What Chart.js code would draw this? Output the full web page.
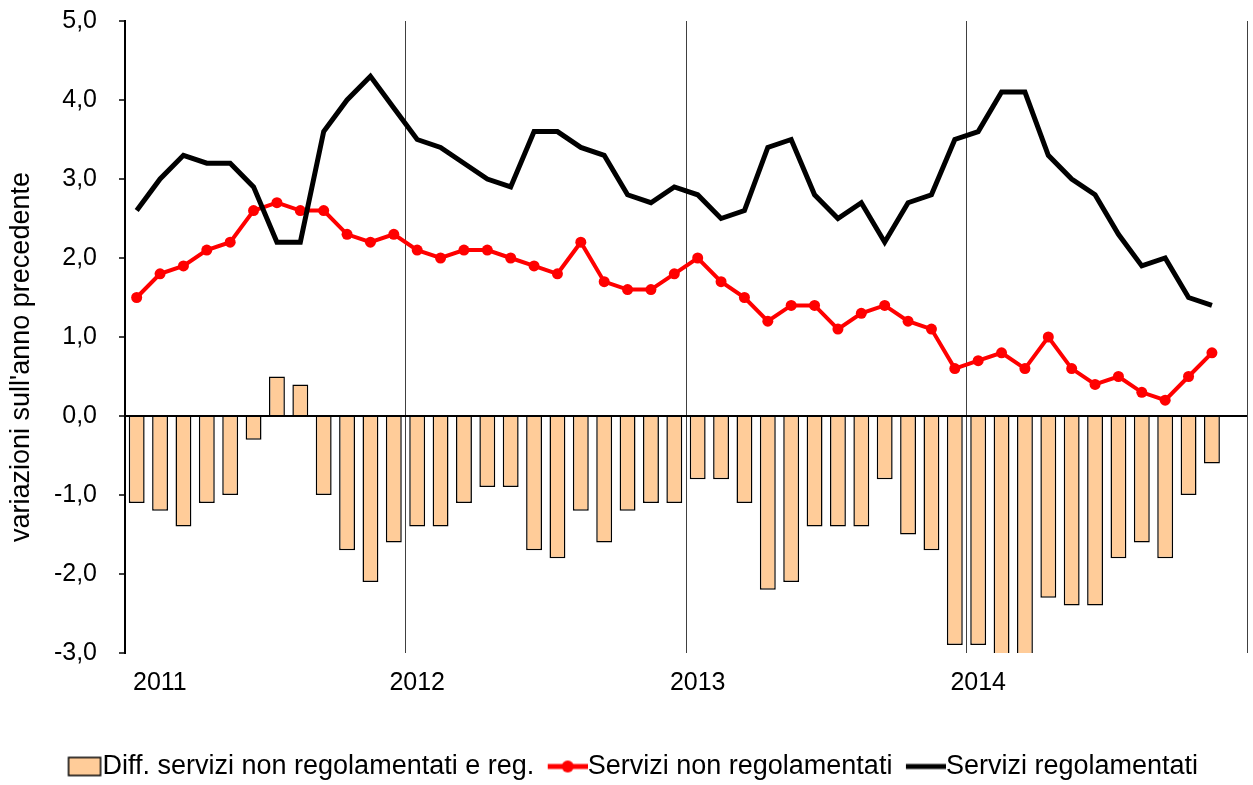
<!DOCTYPE html>
<html lang="it">
<head>
<meta charset="utf-8">
<title>Servizi regolamentati e non regolamentati</title>
<script src="https://cdn.jsdelivr.net/npm/chart.js@4.4.1/dist/chart.umd.min.js"></script>
<style>
  html, body { margin: 0; padding: 0; background: #fff; }
  #wrap { width: 1253px; height: 785px; }
</style>
</head>
<body>
<div id="wrap"><canvas id="grafico"></canvas></div>
<script>
// ---- dati (variazioni % sull'anno precedente, gen 2011 - nov 2014) ----
const ANNI = ["2011", "2012", "2013", "2014"];
const MESI = ["gen", "feb", "mar", "apr", "mag", "giu", "lug", "ago", "set", "ott", "nov", "dic"];

const NON_REG = [
  1.5, 1.8, 1.9, 2.1, 2.2, 2.6, 2.7, 2.6, 2.6, 2.3, 2.2, 2.3,
  2.1, 2.0, 2.1, 2.1, 2.0, 1.9, 1.8, 2.2, 1.7, 1.6, 1.6, 1.8,
  2.0, 1.7, 1.5, 1.2, 1.4, 1.4, 1.1, 1.3, 1.4, 1.2, 1.1, 0.6,
  0.7, 0.8, 0.6, 1.0, 0.6, 0.4, 0.5, 0.3, 0.2, 0.5, 0.8
];
const REG = [
  2.6, 3.0, 3.3, 3.2, 3.2, 2.9, 2.2, 2.2, 3.6, 4.0, 4.3, 3.9,
  3.5, 3.4, 3.2, 3.0, 2.9, 3.6, 3.6, 3.4, 3.3, 2.8, 2.7, 2.9,
  2.8, 2.5, 2.6, 3.4, 3.5, 2.8, 2.5, 2.7, 2.2, 2.7, 2.8, 3.5,
  3.6, 4.1, 4.1, 3.3, 3.0, 2.8, 2.3, 1.9, 2.0, 1.5, 1.4
];
const DIFF = [
  -1.1, -1.2, -1.4, -1.1, -1.0, -0.3, 0.5, 0.4, -1.0, -1.7, -2.1, -1.6,
  -1.4, -1.4, -1.1, -0.9, -0.9, -1.7, -1.8, -1.2, -1.6, -1.2, -1.1, -1.1,
  -0.8, -0.8, -1.1, -2.2, -2.1, -1.4, -1.4, -1.4, -0.8, -1.5, -1.7, -2.9,
  -2.9, -3.3, -3.5, -2.3, -2.4, -2.4, -1.8, -1.6, -1.8, -1.0, -0.6
];

const SERIE = ["Diff. servizi non regolamentati e reg.", "Servizi non regolamentati", "Servizi regolamentati"];
const TITOLO_Y = "variazioni sull'anno precedente";

// 48 categorie mensili (l'ultima, dic 2014, resta vuota)
const CATEGORIE = [];
ANNI.forEach(a => MESI.forEach(m => CATEGORIE.push(m + " " + a)));

const ARANCIO = "#FFCC99";
const ROSSO = "#FF0000";
const NERO = "#000000";
const FONT = '"Liberation Sans", Arial, sans-serif';

// marcatori legenda: immagine larga 67, il simbolo sta nei 40px a destra
function marcatore(tipo) {
  const c = document.createElement("canvas");
  c.width = 67; c.height = 30;
  const g = c.getContext("2d");
  if (tipo === "bar") {
    g.fillStyle = ARANCIO; g.fillRect(33, 6, 32, 18);
    g.strokeStyle = NERO; g.lineWidth = 1.5; g.strokeRect(33, 6, 32, 18);
  } else if (tipo === "rosso") {
    g.strokeStyle = ROSSO; g.lineWidth = 5;
    g.beginPath(); g.moveTo(27, 15); g.lineTo(67, 15); g.stroke();
    g.fillStyle = ROSSO; g.beginPath(); g.arc(47, 15, 6, 0, Math.PI * 2); g.fill();
  } else {
    g.strokeStyle = NERO; g.lineWidth = 5;
    g.beginPath(); g.moveTo(27, 15); g.lineTo(67, 15); g.stroke();
  }
  return c;
}
const MARCATORI = [marcatore("bar"), marcatore("rosso"), marcatore("nero")];

// etichette anni e titolo asse y
const testiExtra = {
  id: "testiExtra",
  afterDraw(chart) {
    const { ctx, chartArea, scales } = chart;
    ctx.save();
    ctx.fillStyle = "#000";
    ctx.font = "25px " + FONT;
    ctx.textBaseline = "middle";
    ANNI.forEach((a, i) => {
      if (i === 0) {
        ctx.textAlign = "left";
        ctx.fillText(a, chartArea.left + 8, chartArea.bottom + 30);
      } else {
        ctx.textAlign = "center";
        ctx.fillText(a, scales.x.getPixelForValue(i * 12), chartArea.bottom + 30);
      }
    });
    ctx.translate(22, (chartArea.top + chartArea.bottom) / 2 + 20);
    ctx.rotate(-Math.PI / 2);
    ctx.font = "27px " + FONT;
    ctx.textAlign = "center";
    ctx.fillText(TITOLO_Y, 0, 0);
    ctx.restore();
  }
};

new Chart(document.getElementById("grafico"), {
  type: "bar",
  data: {
    labels: CATEGORIE,
    datasets: [
      {
        type: "bar", label: SERIE[0], data: DIFF, order: 3,
        backgroundColor: ARANCIO, borderColor: NERO, borderWidth: 1.5,
        barPercentage: 0.68, categoryPercentage: 1.0
      },
      {
        type: "line", label: SERIE[1], data: NON_REG, order: 2,
        borderColor: ROSSO, backgroundColor: ROSSO, borderWidth: 4,
        pointRadius: 5.5, pointBorderWidth: 0, pointBackgroundColor: ROSSO,
        tension: 0
      },
      {
        type: "line", label: SERIE[2], data: REG, order: 1,
        borderColor: NERO, backgroundColor: NERO, borderWidth: 5,
        pointRadius: 0, tension: 0
      }
    ]
  },
  options: {
    responsive: true, maintainAspectRatio: false, animation: false,
    devicePixelRatio: 1,
    layout: { padding: { top: 21, right: 6, left: 0, bottom: -5 } },
    plugins: {
      tooltip: { enabled: false },
      legend: {
        position: "bottom",
        labels: {
          usePointStyle: true, pointStyleWidth: 40, padding: 0,
          color: "#000", font: { family: FONT, size: 27 },
          generateLabels: chart => chart.data.datasets.map((d, i) => ({
            text: d.label, pointStyle: MARCATORI[i], datasetIndex: i,
            fillStyle: "transparent", strokeStyle: "transparent", lineWidth: 0,
            fontColor: "#000"
          }))
        }
      }
    },
    scales: {
      x: {
        offset: true,
        grid: {
          offset: true, drawTicks: false, lineWidth: 1,
          color: c => (c.index === undefined || c.index % 12 === 0) ? "#404040" : "rgba(0,0,0,0)"
        },
        border: { display: false },
        ticks: { display: false, autoSkip: false },
        afterFit(s) { s.height = 100; }
      },
      y: {
        min: -3, max: 5,
        ticks: {
          stepSize: 1, padding: 22, color: "#000",
          font: { family: FONT, size: 25 },
          callback: v => v.toFixed(1).replace(".", ",")
        },
        grid: {
          color: c => (c.tick && c.tick.value === 0) ? "#000" : "rgba(0,0,0,0)",
          lineWidth: 2, tickColor: "#000", tickLength: 6, tickWidth: 1.5
        },
        border: { display: true, color: "#000", width: 2 },
        afterFit(s) {
          s.width = 125;
          // solo mezza etichetta sopra/sotto, non anche il padding dei tick
          s.paddingTop = 12;
          s.paddingBottom = 12;
        }
      }
    }
  },
  plugins: [testiExtra]
});
</script>
</body>
</html>
